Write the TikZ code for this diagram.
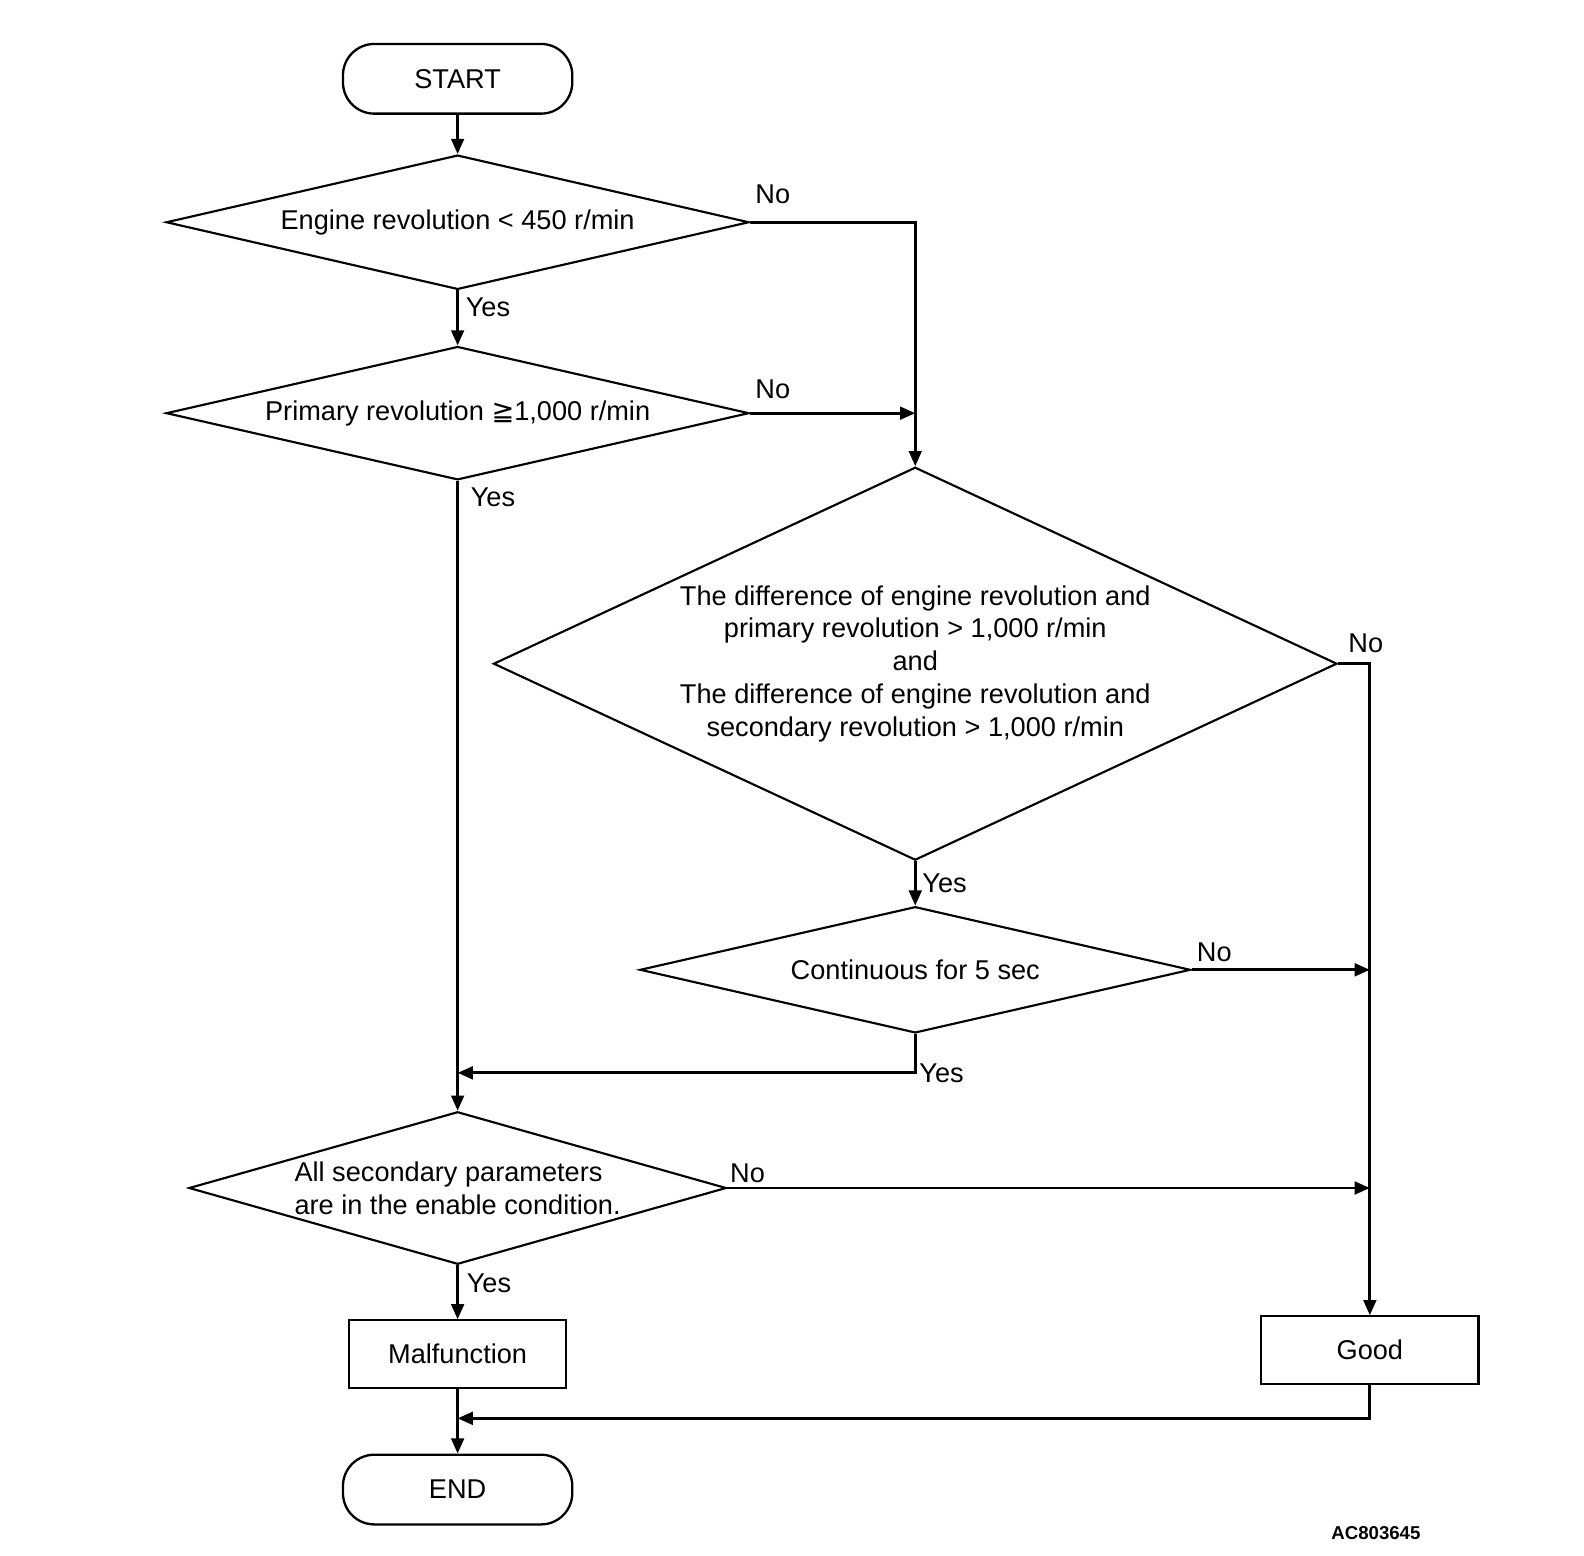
\documentclass[tikz,border=0pt]{standalone}
\usepackage{fontspec}
\setmainfont{Liberation Sans}
\newfontfamily\symfont{DejaVu Sans}
\usetikzlibrary{shapes.geometric,arrows.meta}
\begin{document}
\begin{tikzpicture}[every node/.style={font=\fontsize{15.3}{18.5}\selectfont},
  arr/.style={line width=1.6pt, -{Triangle[length=0.3cm, width=0.25cm]}},
  terminal/.style={draw, line width=1.3pt, rounded corners=0.62cm, minimum width=4.54cm, minimum height=1.38cm},
  decision/.style={draw, diamond, line width=1.2pt, inner sep=0pt, align=center},
  process/.style={draw, line width=1.2pt, minimum width=4.3cm, minimum height=1.34cm},
  lbl/.style={inner sep=0pt}]
  \useasboundingbox (0,0) rectangle (31.36,-30.8);

  \node[terminal] (start) at (9.06,-1.56) {START};

  \node[decision, aspect=4.34, minimum width=11.54cm, minimum height=2.66cm] (engine) at (9.06,-4.40)
  {Engine revolution < 450 r/min};

  \node[decision, aspect=4.37, minimum width=11.54cm, minimum height=2.64cm] (primary) at (9.06,-8.18)
  {Primary revolution {\symfont ≧}1,000 r/min};

  \node[decision, aspect=2.15, minimum width=16.7cm, minimum height=7.78cm] (diff) at (18.12,-13.14)
  {The difference of engine revolution and\\
  primary revolution > 1,000 r/min\\
  and\\
  The difference of engine revolution and\\
  secondary revolution > 1,000 r/min};

  \node[decision, aspect=4.36, minimum width=10.9cm, minimum height=2.5cm] (cont) at (18.12,-19.20)
  {Continuous for 5 sec};

  \node[decision, aspect=3.52, minimum width=10.64cm, minimum height=3.02cm, align=left] (params) at (9.06,-23.52)
  {All secondary parameters\\ are in the enable condition.};

  \node[process] (malf) at (9.06,-26.81) {Malfunction};
  \node[process] (good) at (27.12,-26.73) {Good};

  \node[terminal] (end) at (9.06,-29.49) {END};

  \coordinate (join) at (9.06,-21.24);
  \coordinate (merge) at (9.06,-28.08);

  \draw[arr] (start) -- (engine);
  \draw[arr] (engine.east) -| (diff.north);
  \draw[arr] (engine) -- (primary);
  \draw[arr] (primary.east) -- (primary.east -| diff.north);
  \draw[arr] (primary) -- (params);
  \draw[arr] (diff.east) -| (good.north);
  \draw[arr] (diff) -- (cont);
  \draw[arr] (cont.east) -- (cont.east -| good.north);
  \draw[arr] (cont.south) |- (join);
  \draw[arr] (params.east) -- (params.east -| good.north);
  \draw[arr] (params) -- (malf);
  \draw[arr] (malf) -- (end);
  \draw[arr] (good.south) |- (merge);

  \node[lbl] (no1) at (15.30,-3.84) {No};
  \node[lbl] (yes1) at (9.66,-6.08) {Yes};
  \node[lbl] (no2) at (15.30,-7.70) {No};
  \node[lbl] (yes2) at (9.76,-9.84) {Yes};
  \node[lbl] (no3) at (27.04,-12.74) {No};
  \node[lbl] (yes3) at (18.70,-17.48) {Yes};
  \node[lbl] (no5) at (24.04,-18.86) {No};
  \node[lbl] (yes5) at (18.64,-21.24) {Yes};
  \node[lbl] (no4) at (14.80,-23.22) {No};
  \node[lbl] (yes4) at (9.68,-25.40) {Yes};

  \node[font=\fontsize{10.5}{12}\selectfont\bfseries] (code) at (27.24,-30.36) {AC803645};
\end{tikzpicture}
\end{document}
